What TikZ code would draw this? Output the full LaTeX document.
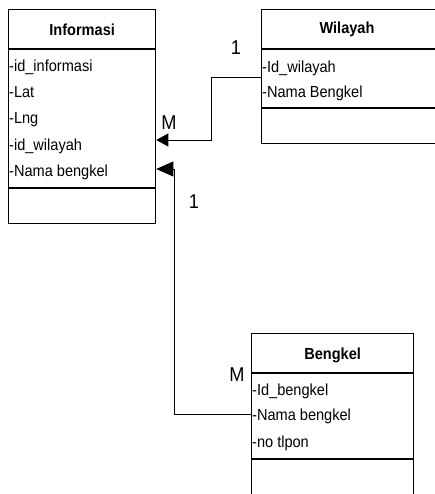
\documentclass[tikz,border=0pt]{standalone}
\usepackage{fontspec}
\setmainfont{Liberation Sans}
\newfontfamily\narrowfont[FakeStretch=0.91]{Liberation Sans}
\usetikzlibrary{calc,arrows.meta}
\begin{document}
\begin{tikzpicture}[x=1pt,y=-1pt,
  box/.style={draw,line width=1.3pt,anchor=north west,inner sep=0pt},
  sep/.style={line width=1.6pt},
  title/.style={font=\narrowfont\fontsize{16}{16}\selectfont\bfseries,inner sep=0pt},
  attr/.style={font=\narrowfont\fontsize{16}{16}\selectfont,anchor=base west,inner sep=0pt},
  lbl/.style={font=\narrowfont\fontsize{20}{20}\selectfont,inner sep=0pt},
  connA/.style={line width=0.8pt,-{Triangle[length=12pt,width=13pt]}},
  connB/.style={line width=0.8pt,-{Triangle[length=17pt,width=15pt]}}]
\clip (0,0) rectangle (435,494);
\fill[white] (0,0) rectangle (435,494);
% Informasi
\node[box,minimum width=147pt,minimum height=214pt] (inf) at (8,9) {};
\draw[sep] ($(inf.north west)+(0,40)$) -- ($(inf.north east)+(0,40)$);
\draw[sep] ($(inf.north west)+(0,179)$) -- ($(inf.north east)+(0,179)$);
\node[title] (inft) at ($(inf.north)+(0,21)$) {Informasi};
\node[attr] (i1) at ($(inf.north west)+(1,63)$) {-id\_informasi};
\node[attr] (i2) at ($(inf.north west)+(1,89)$) {-Lat};
\node[attr] (i3) at ($(inf.north west)+(1,115)$) {-Lng};
\node[attr] (i4) at ($(inf.north west)+(1,142)$) {-id\_wilayah};
\node[attr] (i5) at ($(inf.north west)+(1,168)$) {-Nama bengkel};
% Wilayah
\node[box,minimum width=200pt,minimum height=134pt] (wil) at (261,9) {};
\draw[sep] ($(wil.north west)+(0,40)$) -- ($(wil.north east)+(0,40)$);
\draw[sep] ($(wil.north west)+(0,99)$) -- ($(wil.north east)+(0,99)$);
\node[title] (wilt) at ($(wil.north west)+(86,20)$) {Wilayah};
\node[attr] (w1) at ($(wil.north west)+(1,64)$) {-Id\_wilayah};
\node[attr] (w2) at ($(wil.north west)+(1,89)$) {-Nama Bengkel};
% Bengkel
\node[box,minimum width=162pt,minimum height=180pt] (ben) at (251,333) {};
\draw[sep] ($(ben.north west)+(0,40)$) -- ($(ben.north east)+(0,40)$);
\draw[sep] ($(ben.north west)+(0,126)$) -- ($(ben.north east)+(0,126)$);
\node[title] (bent) at ($(ben.north)+(0,22)$) {Bengkel};
\node[attr] (b1) at ($(ben.north west)+(1,62)$) {-Id\_bengkel};
\node[attr] (b2) at ($(ben.north west)+(1,87)$) {-Nama bengkel};
\node[attr] (b3) at ($(ben.north west)+(1,114)$) {-no tlpon};
% connectors
\coordinate (c1s) at ($(wil.north west)+(0,68)$);
\coordinate (c1e) at ($(inf.north east)+(0,131)$);
\draw[connA] (c1s) -- (211,68 |- c1s) -- (211,0 |- c1e) -- (c1e);
\coordinate (c2s) at ($(ben.north west)+(0,81)$);
\coordinate (c2e) at ($(inf.north east)+(0,160)$);
\draw[connB] (c2s) -- (174,0 |- c2s) -- (174,0 |- c2e) -- (c2e);
% labels
\node[lbl] (l1) at (236,48) {1};
\node[lbl] (l2) at (169,123) {M};
\node[lbl] (l3) at (194,202) {1};
\node[lbl] (l4) at (237,375) {M};
\end{tikzpicture}
\end{document}
